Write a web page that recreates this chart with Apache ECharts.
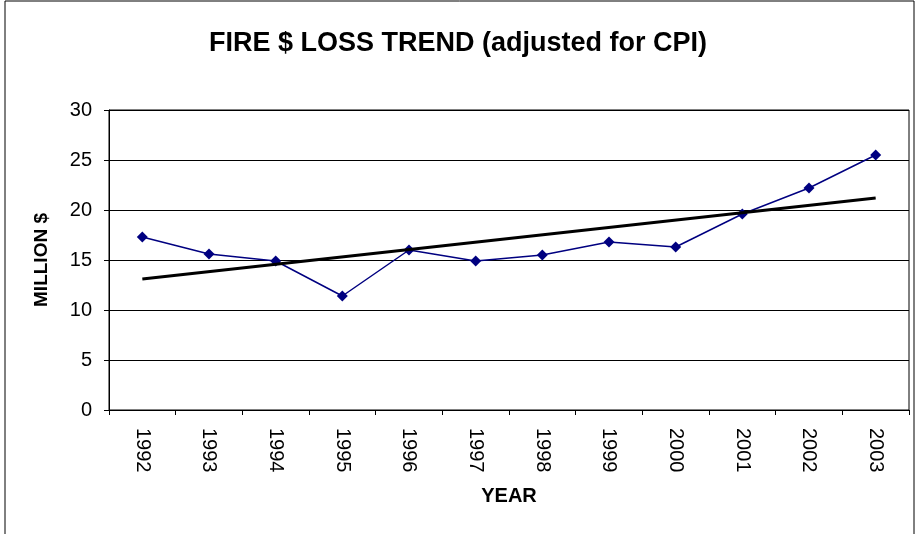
<!DOCTYPE html>
<html>
<head>
<meta charset="utf-8">
<script src="https://cdn.jsdelivr.net/npm/echarts@6/dist/echarts.min.js"></script>
<style>
  html, body { margin: 0; padding: 0; background: #fff; }
  #chart { width: 916px; height: 534px; }
</style>
</head>
<body>
<div id="chart"></div>
<script>
const years = ['1992', '1993', '1994', '1995', '1996', '1997', '1998', '1999', '2000', '2001', '2002', '2003'];
const lossMillions = [17.3, 15.6, 14.9, 11.4, 16.0, 14.9, 15.5, 16.8, 16.3, 19.6, 22.2, 25.5];
// trend line end points (first and last year)
const trendYears = ['1992', '2003'];
const trendValues = [13.1, 21.2];
const yTicks = [0, 5, 10, 15, 20, 25, 30];

const font = 'Liberation Sans, Arial, sans-serif';

const chart = echarts.init(document.getElementById('chart'));

const option = {
  backgroundColor: '#fff',
  animation: false,
  title: {
    text: 'FIRE $ LOSS TREND (adjusted for CPI)',
    left: 'center',
    top: 25,
    textStyle: { fontFamily: font, fontSize: 27, fontWeight: 'bold', color: '#000' },
  },
  graphic: [
    {
      type: 'rect',
      shape: { x: 5, y: 1, width: 909, height: 540 },
      style: { fill: 'none', stroke: '#000', lineWidth: 1 },
      silent: true,
    },
  ],
  grid: {
    left: 109,
    right: 7,
    top: 110,
    bottom: 124,
    show: true,
    borderColor: '#000',
    borderWidth: 1,
    backgroundColor: '#fff',
  },
  xAxis: {
    type: 'category',
    data: years,
    boundaryGap: true,
    name: 'YEAR',
    nameLocation: 'middle',
    nameGap: 76,
    nameTextStyle: { fontFamily: font, fontSize: 20, fontWeight: 'bold', color: '#000' },
    axisLine: { lineStyle: { color: '#000', width: 1 } },
    axisTick: { show: true, length: 5, alignWithLabel: false, lineStyle: { color: '#000' } },
    axisLabel: {
      rotate: -90,
      margin: 18,
      fontFamily: font,
      fontSize: 20,
      color: '#000',
    },
    splitLine: { show: false },
  },
  yAxis: {
    type: 'value',
    min: yTicks[0],
    max: yTicks[yTicks.length - 1],
    interval: 5,
    name: 'MILLION $',
    nameLocation: 'middle',
    nameGap: 58,
    nameTextStyle: { fontFamily: font, fontSize: 19, fontWeight: 'bold', color: '#000' },
    axisLine: { show: true, lineStyle: { color: '#000', width: 1 } },
    axisTick: { show: true, length: 5, lineStyle: { color: '#000' } },
    axisLabel: { margin: 17, fontFamily: font, fontSize: 20, color: '#000' },
    splitLine: { show: true, lineStyle: { color: '#000', width: 1 } },
  },
  series: [
    {
      name: 'Loss',
      type: 'line',
      data: lossMillions,
      symbol: 'diamond',
      symbolSize: 11,
      itemStyle: { color: '#000080' },
      lineStyle: { color: '#000080', width: 1.5 },
      z: 3,
    },
    {
      name: 'Trend',
      type: 'line',
      data: trendYears.map((y, i) => [y, trendValues[i]]),
      symbol: 'none',
      lineStyle: { color: '#000', width: 3 },
      z: 4,
    },
  ],
};

chart.setOption(option);
</script>
</body>
</html>
